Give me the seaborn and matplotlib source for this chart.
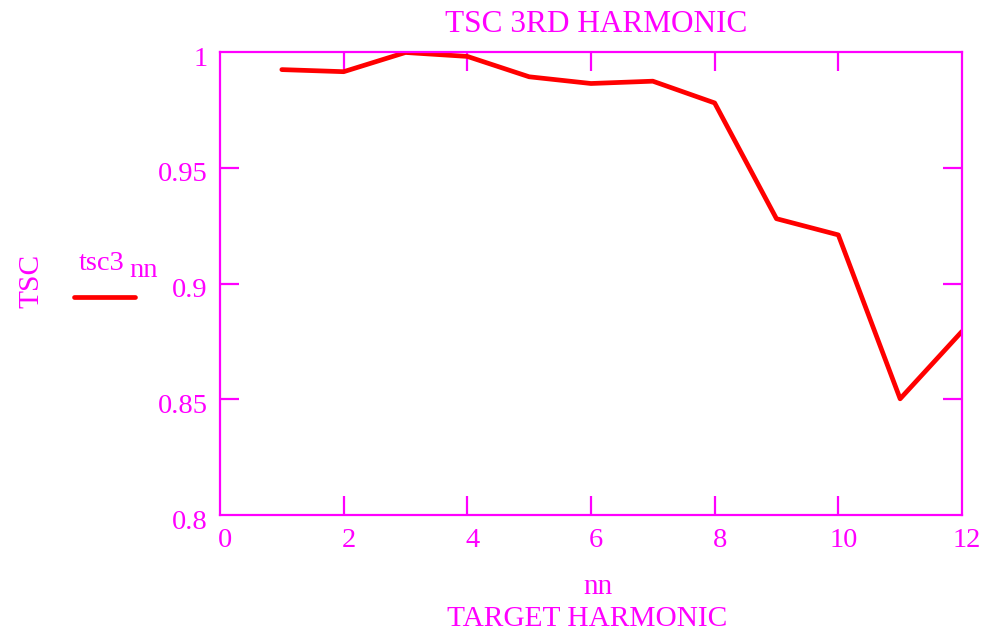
import numpy as np
import pandas as pd
import matplotlib.pyplot as plt
import matplotlib.transforms as mtransforms
from matplotlib.lines import Line2D
import seaborn as sns

# values
nn = [1, 2, 3, 4, 5, 6, 7, 8, 9, 10, 11, 12]
tsc3 = [0.9924, 0.9915, 0.9998, 0.9981, 0.9893, 0.9864, 0.9874, 0.9780,
        0.9280, 0.9210, 0.8502, 0.8793]
xticks = [0, 2, 4, 6, 8, 10, 12]
yticks = [0.8, 0.85, 0.9, 0.95, 1.0]
ytick_labels = ["0.8", "0.85", "0.9", "0.95", "1"]

MAG = "#ff00ff"

sns.set_style("white")
plt.rcParams["font.family"] = ["Liberation Serif", "DejaVu Serif"]

df = pd.DataFrame({"nn": nn, "tsc3": tsc3})

fig = plt.figure(figsize=(9.83, 6.32), dpi=100)
ax = fig.add_axes([0.2238, 0.1851, 0.9786 - 0.2238, 0.9177 - 0.1851])

sns.lineplot(data=df, x="nn", y="tsc3", ax=ax, color="#ff0000", linewidth=3.4)

ax.set_xlim(0, 12)
ax.set_ylim(0.8, 1.0)
ax.set_xticks(xticks)
ax.set_yticks(yticks)
ax.set_yticklabels(ytick_labels)

for s in ax.spines.values():
    s.set_color(MAG)
    s.set_linewidth(1.6)

ax.tick_params(axis="both", which="both", direction="in", length=14, width=1.6,
               color=MAG, labelcolor=MAG, labelsize=20.5,
               bottom=True, left=True, top=True, right=True,
               labeltop=False, labelright=False)
ax.tick_params(axis="x", pad=9)
ax.tick_params(axis="y", pad=9)

# hide the ticks that sit on the frame corners
for t in ax.xaxis.get_major_ticks():
    if t.get_loc() in (0, 12):
        t.tick1line.set_visible(False)
        t.tick2line.set_visible(False)
for t in ax.yaxis.get_major_ticks():
    if abs(t.get_loc() - 0.8) < 1e-9 or abs(t.get_loc() - 1.0) < 1e-9:
        t.tick1line.set_visible(False)
        t.tick2line.set_visible(False)

# mathcad-ish label offsets
off_x = mtransforms.ScaledTranslation(5 / 100, 0, fig.dpi_scale_trans)
for lab in ax.get_xticklabels():
    lab.set_transform(lab.get_transform() + off_x)
off_y = mtransforms.ScaledTranslation(0, -4 / 100, fig.dpi_scale_trans)
for lab in ax.get_yticklabels():
    lab.set_transform(lab.get_transform() + off_y)

ax.set_xlabel("")
ax.set_ylabel("")

fig.text(0.606, 0.962, "TSC 3RD HARMONIC", color=MAG, fontsize=22.5,
         ha="center", va="center")
fig.text(0.608, 0.071, "nn", color=MAG, fontsize=21.2, ha="center", va="center")
fig.text(0.597, 0.021, "TARGET HARMONIC", color=MAG, fontsize=21.2,
         ha="center", va="center")
fig.text(0.032, 0.555, "TSC", color=MAG, fontsize=21.2, rotation=90,
         ha="center", va="center")

# legend in the left margin
fig.text(0.080, 0.573, "tsc3", color=MAG, fontsize=20.5, ha="left", va="baseline")
fig.text(0.132, 0.562, "nn", color=MAG, fontsize=20.5, ha="left", va="baseline")
fig.add_artist(Line2D([0.075, 0.137], [0.530, 0.530], color="#ff0000",
                      linewidth=3.4, solid_capstyle="round",
                      transform=fig.transFigure))

fig.savefig("out.png", dpi=100, facecolor="white")
